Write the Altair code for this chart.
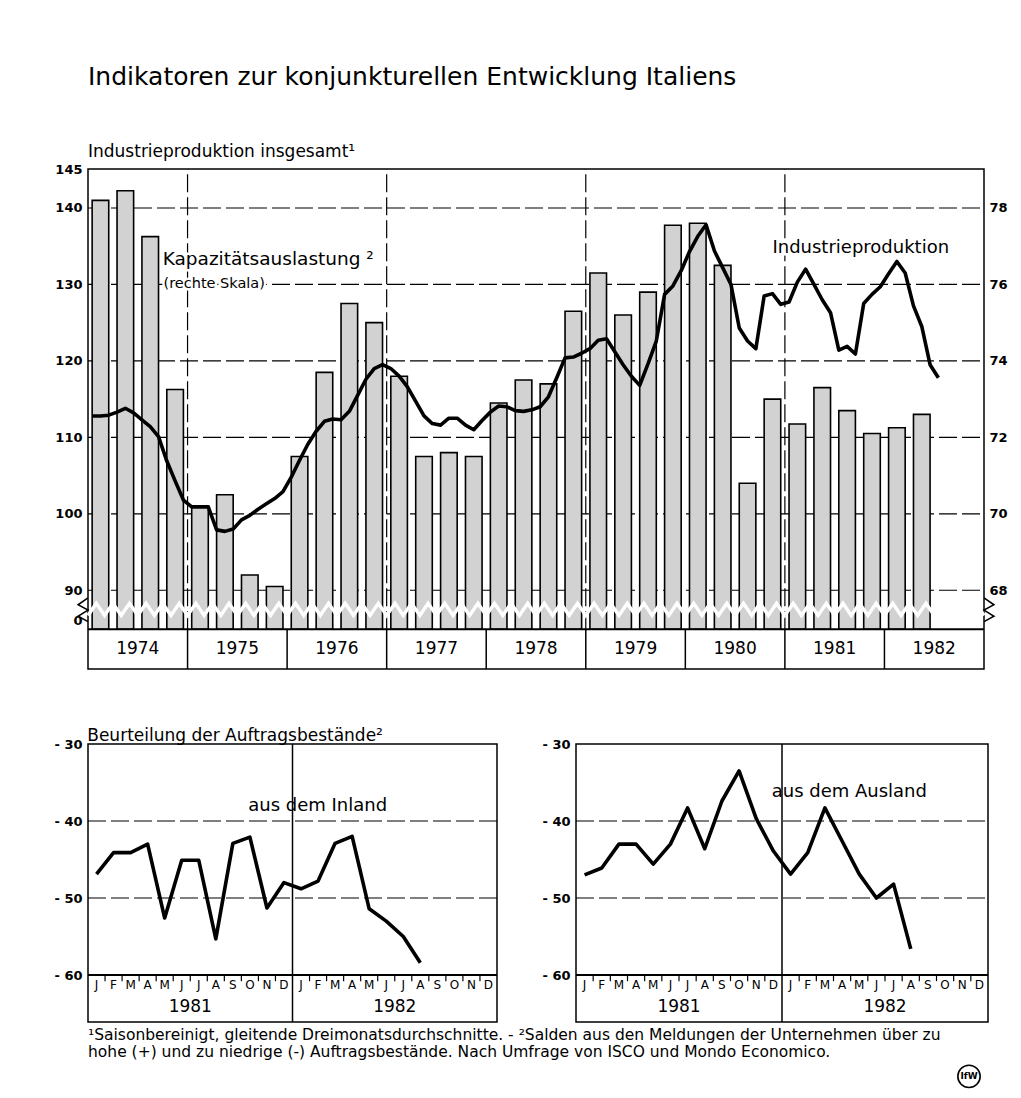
import altair as alt
import pandas as pd
import numpy as np

FONT = "DejaVu Sans"

# ---------------- data ----------------
top_years = [1974, 1975, 1976, 1977, 1978, 1979, 1980, 1981, 1982]

# Kapazitaetsauslastung (rechte Skala), quarterly 1974 Q1 - 1982 Q2
capacity = [78.2, 78.45, 77.25, 73.25,
            70.2, 70.5, 68.4, 68.1,
            71.5, 73.7, 75.5, 75.0,
            73.6, 71.5, 71.6, 71.5,
            72.9, 73.5, 73.4, 75.3,
            76.3, 75.2, 75.8, 77.55,
            77.6, 76.5, 70.8, 73.0,
            72.35, 73.3, 72.7, 72.1,
            72.25, 72.6]

# Industrieproduktion (linke Skala), monthly Jan 1974 - Jul 1982
ind_1974 = [112.8, 112.8, 112.9, 113.3, 113.8, 113.2, 112.3, 111.4, 110.1, 106.9, 104.3, 101.8]
ind_1975 = [100.9, 100.9, 100.9, 97.9, 97.7, 98.0, 99.2, 99.8, 100.6, 101.3, 102.0, 102.9]
ind_1976 = [104.8, 107.0, 109.1, 110.8, 112.1, 112.4, 112.3, 113.4, 115.5, 117.6, 119.0, 119.5]
ind_1977 = [119.0, 118.0, 116.6, 114.7, 112.8, 111.8, 111.6, 112.5, 112.5, 111.6, 111.0, 112.2]
ind_1978 = [113.3, 114.1, 114.0, 113.5, 113.4, 113.6, 114.0, 115.3, 117.8, 120.4, 120.5, 121.0]
ind_1979 = [121.6, 122.7, 122.9, 121.2, 119.5, 118.0, 116.8, 119.6, 122.6, 128.7, 129.8, 131.8]
ind_1980 = [134.3, 136.3, 137.8, 134.4, 132.2, 130.0, 124.3, 122.6, 121.6, 128.5, 128.8, 127.4]
ind_1981 = [127.7, 130.3, 132.0, 130.0, 128.0, 126.3, 121.4, 121.9, 120.9, 127.5, 128.7, 129.7]
ind_1982 = [131.4, 133.0, 131.5, 127.2, 124.5, 119.5, 117.8]

left_ticks = [90, 100, 110, 120, 130, 140, 145]
right_ticks = [68, 70, 72, 74, 76, 78]

# Beurteilung der Auftragsbestaende, monthly
month_letters = ["J", "F", "M", "A", "M", "J", "J", "A", "S", "O", "N", "D"]
bottom_years = [1981, 1982]
inland_1981 = [-46.9, -44.1, -44.1, -43.0, -52.6, -45.1, -45.1, -55.3, -42.9, -42.1, -51.3, -48.0]
inland_1982 = [-48.8, -47.8, -42.9, -42.0, -51.4, -53.0, -55.0, -58.4]
ausland_1981 = [-47.0, -46.1, -43.0, -43.0, -45.6, -43.0, -38.3, -43.6, -37.4, -33.5, -39.7, -43.9]
ausland_1982 = [-46.9, -44.1, -38.3, -42.6, -46.9, -50.0, -48.2, -56.6]
bottom_ticks = [-30, -40, -50, -60]

title_main = "Indikatoren zur konjunkturellen Entwicklung Italiens"
title_top = "Industrieproduktion insgesamt\u00b9"
title_bottom = "Beurteilung der Auftragsbest\u00e4nde\u00b2"
footnotes = [
    "\u00b9Saisonbereinigt, gleitende Dreimonatsdurchschnitte. - \u00b2Salden aus den Meldungen der Unternehmen \u00fcber zu",
    "hohe (+) und zu niedrige (-) Auftragsbest\u00e4nde. Nach Umfrage von ISCO und Mondo Economico."]
logo_text = "IfW"

# ---------------- scales ----------------
L_MIN, L_MAX = 79.7, 145.1          # left scale incl. year band below the break
BASE_L = 84.9                        # bottom of bars / top of year band


def to_right(v):
    return 68 + (v - 90) / 5.0


R_MIN, R_MAX = to_right(L_MIN), to_right(L_MAX)
BASE_R = to_right(BASE_L)
N_MONTHS = 12 * len(top_years)

xs = alt.Scale(domain=[0, N_MONTHS], nice=False, zero=False)
ysL = alt.Scale(domain=[L_MIN, L_MAX], nice=False, zero=False)
ysR = alt.Scale(domain=[R_MIN, R_MAX], nice=False, zero=False)

AXL = alt.Axis(orient="left", values=[86] + left_ticks, title=None,
               labelExpr="datum.value < 87 ? '0' : datum.label",
               ticks=False, domain=False, grid=False, labelFontSize=13,
               labelFontWeight="bold", labelColor="black", labelPadding=6,
               minExtent=36, maxExtent=36)
AXR = alt.Axis(orient="right", values=right_ticks, title=None, ticks=False,
               domain=False, grid=False, labelFontSize=13, labelFontWeight="bold",
               labelColor="black", labelPadding=5)
NOX = None

# ---------------- top chart ----------------
ind = ind_1974 + ind_1975 + ind_1976 + ind_1977 + ind_1978 + ind_1979 + ind_1980 + ind_1981 + ind_1982
df_line = pd.DataFrame({"m": np.arange(len(ind)) + 0.5, "v": ind})

q = np.arange(len(capacity))
df_bar = pd.DataFrame({"q0": q * 3 + 0.5, "q1": q * 3 + 2.5, "v": capacity, "base": BASE_R})

W_TOP, H_TOP = 896, 500

hgrid = alt.Chart(pd.DataFrame({"v": left_ticks[:-1]})).transform_calculate(
    a="0", b=str(N_MONTHS)).mark_rule(color="black", strokeWidth=1.2, strokeDash=[18, 5]).encode(
    x=alt.X("a:Q", scale=xs, axis=NOX), x2="b:Q",
    y=alt.Y("v:Q", scale=ysL, axis=None))

vgrid = alt.Chart(pd.DataFrame({"m": [12, 36, 60, 84]})).transform_calculate(
    y0=str(BASE_L), y1=str(L_MAX)).mark_rule(color="black", strokeWidth=1.2, strokeDash=[18, 5]).encode(
    x=alt.X("m:Q", scale=xs, axis=NOX),
    y=alt.Y("y0:Q", scale=ysL, axis=None), y2="y1:Q")

bg = alt.layer(hgrid, vgrid)

bars = alt.Chart(df_bar).mark_bar(fill="#d2d2d2", stroke="black", strokeWidth=1.6).encode(
    x=alt.X("q0:Q", scale=xs, axis=NOX), x2="q1:Q",
    y=alt.Y("v:Q", scale=ysR, axis=AXR), y2="base:Q")

# axis-break zigzag (white cut through the bars)
zz_x = np.arange(0, N_MONTHS + 0.01, 1.0)
zz_levels = [86.7, 88.3]
df_zz = pd.DataFrame({"x": zz_x, "y": [zz_levels[i % 2] for i in range(len(zz_x))]})
zigzag = alt.Chart(df_zz).mark_line(color="white", strokeWidth=3.5).encode(
    x=alt.X("x:Q", scale=xs, axis=NOX), y=alt.Y("y:Q", scale=ysL, axis=AXL), order="x:Q")

# break symbols at both vertical axes
brk_y = [89.0, 88.1, 87.4, 86.6, 85.9]
brk_dx = [0.0, -1.2, 0.0, -1.2, 0.0]
df_brk = pd.DataFrame({
    "x": [0 + d for d in brk_dx] + [N_MONTHS - d for d in brk_dx],
    "y": brk_y + brk_y,
    "side": ["l"] * 5 + ["r"] * 5,
    "o": list(range(5)) * 2})
brk = alt.Chart(df_brk).mark_line(color="black", strokeWidth=1.5).encode(
    x=alt.X("x:Q", scale=xs, axis=NOX), y=alt.Y("y:Q", scale=ysL, axis=AXL),
    detail="side:N", order="o:Q")

base_rule = alt.Chart(pd.DataFrame({"v": [BASE_L]})).transform_calculate(
    a="0", b=str(N_MONTHS)).mark_rule(color="black", strokeWidth=2).encode(
    x=alt.X("a:Q", scale=xs, axis=NOX), x2="b:Q", y=alt.Y("v:Q", scale=ysL, axis=AXL))

sep = alt.Chart(pd.DataFrame({"m": [12 * (i + 1) for i in range(len(top_years) - 1)]})).transform_calculate(
    y0=str(L_MIN), y1=str(BASE_L)).mark_rule(color="black", strokeWidth=1.5).encode(
    x=alt.X("m:Q", scale=xs, axis=NOX), y=alt.Y("y0:Q", scale=ysL, axis=AXL), y2="y1:Q")

df_years = pd.DataFrame({"m": [12 * i + 6 for i in range(len(top_years))],
                         "t": [str(y) for y in top_years]})
year_txt = alt.Chart(df_years).transform_calculate(y=str((L_MIN + BASE_L) / 2)).mark_text(
    fontSize=17, font=FONT, color="black", baseline="middle").encode(
    x=alt.X("m:Q", scale=xs, axis=NOX), y=alt.Y("y:Q", scale=ysL, axis=AXL), text="t:N")

line = alt.Chart(df_line).mark_line(color="black", strokeWidth=3.6, strokeJoin="round").encode(
    x=alt.X("m:Q", scale=xs, axis=NOX), y=alt.Y("v:Q", scale=ysL, axis=AXL))

df_ann = pd.DataFrame({
    "m": [9.0, 9.1, 82.5],
    "v": [133.3, 130.0, 134.8],
    "t": ["Kapazit\u00e4tsauslastung \u00b2", "(rechte Skala)", "Industrieproduktion"],
    "s": [18.5, 14.5, 18]})
ann_halo = alt.Chart(df_ann).mark_text(align="left", baseline="middle", font=FONT,
                                       stroke="white", strokeWidth=5, color="white").encode(
    x=alt.X("m:Q", scale=xs, axis=NOX), y=alt.Y("v:Q", scale=ysL, axis=AXL), text="t:N",
    size=alt.Size("s:Q", scale=None, legend=None))
ann = alt.Chart(df_ann).mark_text(align="left", baseline="middle", font=FONT, color="black").encode(
    x=alt.X("m:Q", scale=xs, axis=NOX), y=alt.Y("v:Q", scale=ysL, axis=AXL), text="t:N",
    size=alt.Size("s:Q", scale=None, legend=None))

fg = alt.layer(zigzag, brk, base_rule, sep, year_txt, line, ann_halo, ann)

top = alt.layer(bg, bars, fg).resolve_scale(y="independent").properties(
    width=W_TOP, height=H_TOP,
    title=alt.TitleParams(text=title_main, subtitle=title_top, anchor="start", frame="group",
                          font=FONT, subtitleFont=FONT, fontSize=25, subtitleFontSize=17,
                          fontWeight="normal", color="black", subtitleColor="black",
                          subtitlePadding=54, offset=4))

# ---------------- bottom charts ----------------
B_MIN, B_MAX = -66.1, -30
H_BOT = 278
AXB = alt.Axis(values=bottom_ticks, title=None, labelExpr="'- ' + abs(datum.value)",
               ticks=False, domain=False, grid=False, labelFontSize=13, labelFontWeight="bold",
               labelColor="black", labelPadding=6, minExtent=36, maxExtent=36)


def panel(v81, v82, label, lx, ly, width):
    xsB = alt.Scale(domain=[0, 24], nice=False, zero=False)
    ysB = alt.Scale(domain=[B_MIN, B_MAX], nice=False, zero=False)
    vals = v81 + v82
    df = pd.DataFrame({"m": np.arange(len(vals)) + 0.5, "v": vals})

    hg = alt.Chart(pd.DataFrame({"v": [-40, -50]})).transform_calculate(a="0", b="24").mark_rule(
        color="black", strokeWidth=1.2, strokeDash=[18, 5]).encode(
        x=alt.X("a:Q", scale=xsB, axis=None), x2="b:Q", y=alt.Y("v:Q", scale=ysB, axis=AXB))
    base = alt.Chart(pd.DataFrame({"v": [-60]})).transform_calculate(a="0", b="24").mark_rule(
        color="black", strokeWidth=1.8).encode(
        x=alt.X("a:Q", scale=xsB, axis=None), x2="b:Q", y=alt.Y("v:Q", scale=ysB, axis=AXB))
    vg = alt.Chart(pd.DataFrame({"m": [12]})).transform_calculate(y0=str(B_MIN), y1=str(B_MAX)).mark_rule(
        color="black", strokeWidth=1.5).encode(
        x=alt.X("m:Q", scale=xsB, axis=None), y=alt.Y("y0:Q", scale=ysB, axis=AXB), y2="y1:Q")
    tk = alt.Chart(pd.DataFrame({"m": [k for k in range(1, 24) if k != 12]})).transform_calculate(
        y0="-60", y1="-60.8").mark_rule(color="black", strokeWidth=1.2).encode(
        x=alt.X("m:Q", scale=xsB, axis=None), y=alt.Y("y0:Q", scale=ysB, axis=AXB), y2="y1:Q")
    df_ml = pd.DataFrame({"m": np.arange(24) + 0.5, "t": month_letters * 2})
    ml = alt.Chart(df_ml).transform_calculate(y="-61.3").mark_text(
        fontSize=12, font=FONT, color="black", baseline="middle").encode(
        x=alt.X("m:Q", scale=xsB, axis=None), y=alt.Y("y:Q", scale=ysB, axis=AXB), text="t:N")
    df_yl = pd.DataFrame({"m": [6, 18], "t": [str(y) for y in bottom_years]})
    yl = alt.Chart(df_yl).transform_calculate(y="-64.2").mark_text(
        fontSize=17, font=FONT, color="black", baseline="middle").encode(
        x=alt.X("m:Q", scale=xsB, axis=None), y=alt.Y("y:Q", scale=ysB, axis=AXB), text="t:N")
    ln = alt.Chart(df).mark_line(color="black", strokeWidth=3.6, strokeJoin="round").encode(
        x=alt.X("m:Q", scale=xsB, axis=None), y=alt.Y("v:Q", scale=ysB, axis=AXB))
    df_lab = pd.DataFrame({"m": [lx], "v": [ly], "t": [label]})
    lab = alt.Chart(df_lab).mark_text(align="left", baseline="middle", fontSize=18, font=FONT,
                                      color="black").encode(
        x=alt.X("m:Q", scale=xsB, axis=None), y=alt.Y("v:Q", scale=ysB, axis=AXB), text="t:N")
    return alt.layer(hg, base, vg, tk, ml, yl, ln, lab).properties(width=width, height=H_BOT)


left_panel = panel(inland_1981, inland_1982, "aus dem Inland", 9.4, -38.1, 409)
right_panel = panel(ausland_1981, ausland_1982, "aus dem Ausland", 11.4, -36.2, 412)

bottom = alt.hconcat(left_panel, right_panel, spacing=40).properties(
    title=alt.TitleParams(text=title_bottom, anchor="start", dx=36, font=FONT, fontSize=17,
                          fontWeight="normal", color="black", offset=-8))

# ---------------- footnotes + logo ----------------
H_FOOT = 62
ys_f = alt.Scale(domain=[-0.65, 2.95], reverse=True, nice=False, zero=False)
AXF = alt.Axis(values=[0], title=None, ticks=False, domain=False, grid=False, labelOpacity=0,
               minExtent=36, maxExtent=36)
df_fn = pd.DataFrame({"row": [0, 1], "t": footnotes})
fn = alt.Chart(df_fn).mark_text(align="left", baseline="alphabetic", fontSize=15.5, font=FONT,
                                color="black").encode(
    x=alt.value(0), y=alt.Y("row:Q", scale=ys_f, axis=AXF), text="t:N")
df_logo = pd.DataFrame({"row": [2.1], "t": [logo_text]})
logo_c = alt.Chart(df_logo).mark_point(shape="circle", size=500, filled=False, color="black",
                                       strokeWidth=1.6, opacity=1).encode(
    x=alt.value(W_TOP - 15), y=alt.Y("row:Q", scale=ys_f, axis=AXF))
logo_t = alt.Chart(df_logo).mark_text(fontSize=9, fontWeight="bold", font=FONT, color="black",
                                      baseline="middle").encode(
    x=alt.value(W_TOP - 15), y=alt.Y("row:Q", scale=ys_f, axis=AXF), text="t:N")
foot = alt.layer(fn, logo_c, logo_t).properties(
    width=W_TOP, height=H_FOOT, view=alt.ViewBackground(strokeWidth=0))

lower = alt.vconcat(bottom, foot, spacing=4)

chart = alt.vconcat(top, lower, spacing=56).properties(
    padding={"left": 43, "top": 56, "right": 5, "bottom": 5}
).configure(font=FONT).configure_view(stroke="black", strokeWidth=1.5)

chart.save("out.html", embed_options={"renderer": "svg", "actions": False})
